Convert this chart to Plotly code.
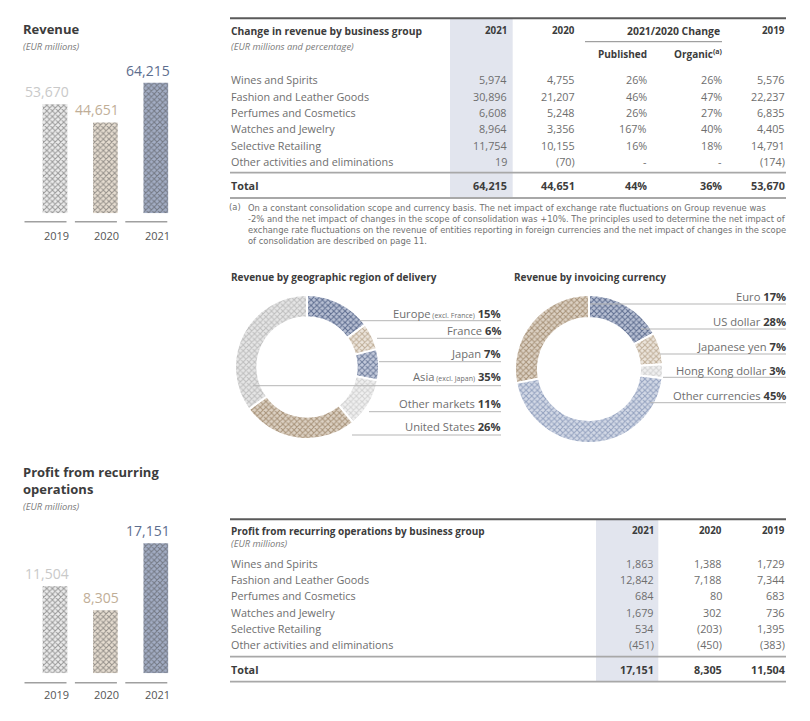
import plotly.graph_objects as go

W, H = 810, 721
FONT = "Open Sans"
FOOT_FONT = "DejaVu Sans"

# ---------------- data ----------------
years = ["2019", "2020", "2021"]
revenue_totals = [53670, 44651, 64215]
profit_totals = [11504, 8305, 17151]

business_groups = ["Wines and Spirits", "Fashion and Leather Goods", "Perfumes and Cosmetics",
                   "Watches and Jewelry", "Selective Retailing", "Other activities and eliminations"]
rev_2021 = [5974, 30896, 6608, 8964, 11754, 19]
rev_2020 = [4755, 21207, 5248, 3356, 10155, -70]
rev_published = [26, 46, 26, 167, 16, None]
rev_organic = [26, 47, 27, 40, 18, None]
rev_2019 = [5576, 22237, 6835, 4405, 14791, -174]
rev_total_published = 44
rev_total_organic = 36

profit_2021 = [1863, 12842, 684, 1679, 534, -451]
profit_2020 = [1388, 7188, 80, 302, -203, -450]
profit_2019 = [1729, 7344, 683, 736, 1395, -383]

geo_regions = ["Europe", "France", "Japan", "Asia", "Other markets", "United States"]
geo_notes = ["(excl. France)", "", "", "(excl. Japan)", "", ""]
geo_shares = [15, 6, 7, 35, 11, 26]
geo_pie_order = ["Europe", "France", "Japan", "Other markets", "United States", "Asia"]

currencies = ["Euro", "US dollar", "Japanese yen", "Hong Kong dollar", "Other currencies"]
currency_shares = [17, 28, 7, 3, 45]
currency_pie_order = ["Euro", "Japanese yen", "Hong Kong dollar", "Other currencies", "US dollar"]

footnote_lines = [
    "On a constant consolidation scope and currency basis. The net impact of exchange rate fluctuations on Group revenue was",
    "-2% and the net impact of changes in the scope of consolidation was +10%. The principles used to determine the net impact of",
    "exchange rate fluctuations on the revenue of entities reporting in foreign currencies and the net impact of changes in the scope",
    "of consolidation are described on page 11.",
]

# ---------------- styles ----------------
DARK = "#3c3c3c"
GREY = "#6e6e6e"
RULE_DARK = "#5a5a5a"
RULE = "#a8a8a8"
COLHL = "#e2e5ee"

year_fg = ["#bdbdbd", "#b09d86", "#4f5e80"]
year_bg = ["#ececec", "#e6ddd1", "#a3adc4"]
year_label = ["#c9c9c9", "#bfae97", "#5d6d8e"]

slice_style = {
    "Europe": ("#5f6e90", "#b9c1d4"),
    "France": ("#bfae98", "#ece5dc"),
    "Japan": ("#6f7d9c", "#c3cadb"),
    "Other markets": ("#d2d2d2", "#f0f0f0"),
    "United States": ("#a8937a", "#dcd1c3"),
    "Asia": ("#bebebe", "#e6e6e6"),
    "Euro": ("#5f6e90", "#b9c1d4"),
    "Japanese yen": ("#bfae98", "#ece5dc"),
    "Hong Kong dollar": ("#d2d2d2", "#f0f0f0"),
    "Other currencies": ("#94a2bf", "#d3d9e6"),
    "US dollar": ("#a8937a", "#dcd1c3"),
}

ROW_SIZE = 10.8
HEAD_SIZE = 9.8
SUB_SIZE = 9.3


def fx(x):
    return x / W


def fy(y):
    return 1 - y / H


def fmt(v):
    if v is None:
        return "-"
    return f"{v:,}" if v >= 0 else f"({-v:,})"


def pct(v):
    return "-" if v is None else f"{v}%"


ann = []
shapes = []


def text(x, y, s, size=10, color=GREY, anchor="left", bold=False, italic=False, family=FONT,
         yanchor="middle"):
    if bold:
        s = f"<b>{s}</b>"
    if italic:
        s = f"<i>{s}</i>"
    ann.append(dict(x=fx(x), y=fy(y), xref="paper", yref="paper", text=s, showarrow=False,
                    xanchor=anchor, yanchor=yanchor, borderpad=0, borderwidth=0, align="left",
                    font=dict(family=family, size=size, color=color)))


def hline(x0, x1, y, color=RULE, width=1.0):
    shapes.append(dict(type="line", xref="paper", yref="paper", x0=fx(x0), x1=fx(x1),
                       y0=fy(y), y1=fy(y), line=dict(color=color, width=width)))


def rect(x0, x1, y0, y1, color):
    shapes.append(dict(type="rect", xref="paper", yref="paper", x0=fx(x0), x1=fx(x1),
                       y0=fy(y1), y1=fy(y0), fillcolor=color, line=dict(width=0), layer="below"))


fig = go.Figure()

# ---------------- bar charts ----------------
BAR_W = 0.49
bar_x = list(range(len(years)))
x_dom = [fx(29.8), fx(181)]


def bar_block(values, xa, ya, base_px, top_px, full_px, line_y, year_y, title, title_top, sub_y):
    fig.add_trace(go.Bar(
        x=bar_x, y=values, width=BAR_W, xaxis=xa, yaxis=ya, showlegend=False,
        marker=dict(color=year_bg, line=dict(width=0),
                    pattern=dict(shape="x", fgcolor=year_fg, bgcolor=year_bg, size=4, solidity=0.45)),
        hoverinfo="x+y"))
    axis_id = xa.replace("x", "")
    fig.update_layout(**{
        f"xaxis{axis_id}": dict(domain=x_dom, range=[-0.5, 2.5], visible=False, fixedrange=True,
                                anchor=ya),
        f"yaxis{axis_id}": dict(domain=[fy(base_px), fy(top_px)],
                                range=[0, max(values) * (base_px - top_px) / full_px],
                                visible=False, fixedrange=True, anchor=xa),
    })
    xr = "x" + axis_id
    yr = "y" + axis_id
    for i, v in enumerate(values):
        ann.append(dict(x=i + BAR_W / 2 + 0.03, y=v, xref=xr, yref=yr, text=f"{v:,}", showarrow=False,
                        xanchor="right", yanchor="bottom", yshift=3, borderpad=0, borderwidth=0,
                        font=dict(family=FONT, size=14, color=year_label[i])))
        ann.append(dict(x=i + BAR_W / 2 + 0.03, y=fy(year_y), xref=xr, yref="paper", text=years[i],
                        showarrow=False, xanchor="right", yanchor="middle", borderpad=0, borderwidth=0,
                        font=dict(family=FONT, size=11, color="#555555")))
        px_c = 55 + 50.4 * i
        hline(px_c - 30.5, px_c + 11.5, line_y, color="#a0a0a0", width=1.6)
    text(23, title_top, title, size=13, color=DARK, bold=True, yanchor="top")
    text(23, sub_y, "(EUR millions)", size=SUB_SIZE, color="#7a7a7a", italic=True)


bar_block(revenue_totals, "x", "y", 213.3, 60, 130.6, 221.7, 235, "Revenue", 20.5, 46.5)
bar_block(profit_totals, "x2", "y2", 673.3, 515, 130.0, 682.7, 694.3,
          "Profit from recurring<br>operations", 462.5, 506.5)

# ---------------- revenue table ----------------
rev_cols_right = [507, 575, 647, 722, 785]
row_y0, row_dy = 80, 16.3
rect(450, 512.7, 18.3, 198, COLHL)
hline(230, 786, 18.3, RULE_DARK, 2)
hline(230, 786, 172.7, RULE, 1.8)
hline(230, 786, 198, RULE, 1.8)
hline(585, 722, 41.7, "#8a8a8a", 1)

text(231, 30.7, "Change in revenue by business group", size=10.3, color=DARK, bold=True)
text(231, 46.7, "(EUR millions and percentage)", size=SUB_SIZE, color="#7a7a7a", italic=True)
text(507, 30.7, "2021", size=HEAD_SIZE, color=DARK, anchor="right", bold=True)
text(575, 30.7, "2020", size=HEAD_SIZE, color=DARK, anchor="right", bold=True)
text(673, 30.7, "2021/2020 Change", size=10.4, color=DARK, anchor="center", bold=True)
text(785, 30.7, "2019", size=HEAD_SIZE, color=DARK, anchor="right", bold=True)
text(647, 54.3, "Published", size=10, color=DARK, anchor="right", bold=True)
text(723, 54.3, "Organic<sup>(a)</sup>", size=10, color=DARK, anchor="right", bold=True)

for r, name in enumerate(business_groups):
    y = row_y0 + row_dy * r
    text(231, y, name, size=ROW_SIZE, color=GREY)
    cells = [fmt(rev_2021[r]), fmt(rev_2020[r]), pct(rev_published[r]), pct(rev_organic[r]), fmt(rev_2019[r])]
    for c, s in enumerate(cells):
        text(rev_cols_right[c], y, s, size=ROW_SIZE, color=GREY, anchor="right")
text(231, 185, "Total", size=ROW_SIZE, color=DARK, bold=True)
tot = [fmt(revenue_totals[2]), fmt(revenue_totals[1]), pct(rev_total_published), pct(rev_total_organic),
       fmt(revenue_totals[0])]
for c, s in enumerate(tot):
    text(rev_cols_right[c], 185, s, size=ROW_SIZE, color=DARK, anchor="right", bold=True)

# footnote
FOOT_SIZE = 8.4
text(229, 206.5, "(a)", size=FOOT_SIZE, color="#707070", family=FOOT_FONT)
text(247.5, 202.5, "<br>".join(footnote_lines), size=FOOT_SIZE, color="#707070",
     family=FOOT_FONT, yanchor="top")

# ---------------- profit table ----------------
pr_cols_right = [654, 722, 785]
prow_y0, prow_dy = 563.3, 16.3
rect(596, 658.3, 519.3, 681.7, COLHL)
hline(230, 786, 519.3, RULE_DARK, 2)
hline(230, 786, 656.7, RULE, 1.8)
hline(230, 786, 681.7, RULE, 1.8)
text(231, 530.7, "Profit from recurring operations by business group", size=10, color=DARK, bold=True)
text(231, 543.5, "(EUR millions)", size=SUB_SIZE, color="#7a7a7a", italic=True)
for c, yv in enumerate(["2021", "2020", "2019"]):
    text(pr_cols_right[c], 530.7, yv, size=HEAD_SIZE, color=DARK, anchor="right", bold=True)
for r, name in enumerate(business_groups):
    y = prow_y0 + prow_dy * r
    text(231, y, name, size=ROW_SIZE, color=GREY)
    for c, s in enumerate([fmt(profit_2021[r]), fmt(profit_2020[r]), fmt(profit_2019[r])]):
        text(pr_cols_right[c], y, s, size=ROW_SIZE, color=GREY, anchor="right")
text(231, 669.3, "Total", size=ROW_SIZE, color=DARK, bold=True)
for c, v in enumerate([profit_totals[2], profit_totals[1], profit_totals[0]]):
    text(pr_cols_right[c], 669.3, fmt(v), size=ROW_SIZE, color=DARK, anchor="right", bold=True)

# ---------------- donuts ----------------


def donut(order, names, shares, x0, x1, y0, y1):
    vals = [shares[names.index(n)] for n in order]
    fig.add_trace(go.Pie(
        labels=order, values=vals, sort=False, direction="clockwise", rotation=0, hole=0.69,
        textinfo="none", showlegend=False,
        marker=dict(colors=[slice_style[n][1] for n in order], line=dict(color="white", width=2),
                    pattern=dict(shape="x", fgcolor=[slice_style[n][0] for n in order],
                                 bgcolor=[slice_style[n][1] for n in order], size=4, solidity=0.45)),
        domain=dict(x=[fx(x0), fx(x1)], y=[fy(y1), fy(y0)])))


donut(geo_pie_order, geo_regions, geo_shares, 235, 379, 295, 439)
donut(currency_pie_order, currencies, currency_shares, 515, 663, 295, 443)

text(231, 276.7, "Revenue by geographic region of delivery", size=10, color=DARK, bold=True)
text(514, 276.7, "Revenue by invoicing currency", size=10, color=DARK, bold=True)

LBL_SIZE = 11.2
geo_label_y = [313.3, 330, 353.3, 376.7, 403.3, 426.7]
geo_line_y = [320.7, 338.3, 361.7, 385.7, 411.7, 435]
geo_line_x0 = [360, 377, 379, 253, 369, 352]
for i, name in enumerate(geo_regions):
    note = f"<span style='font-size:7px'> {geo_notes[i]}</span>" if geo_notes[i] else ""
    text(501, geo_label_y[i], f"{name}{note} <b><span style='color:{DARK}'>{geo_shares[i]}%</span></b>",
         size=LBL_SIZE, color=GREY, anchor="right")
    hline(geo_line_x0[i], 501, geo_line_y[i], "#b5b5b5", 1)

cur_label_y = [296.7, 321.7, 346, 370, 395]
cur_line_y = [304, 329, 354, 377.3, 402.7]
cur_line_x0 = [590, 641, 660, 663, 650]
for i, name in enumerate(currencies):
    text(786, cur_label_y[i], f"{name} <b><span style='color:{DARK}'>{currency_shares[i]}%</span></b>",
         size=LBL_SIZE, color=GREY, anchor="right")
    hline(cur_line_x0[i], 786, cur_line_y[i], "#b5b5b5", 1)

fig.update_layout(
    width=W, height=H, margin=dict(l=0, r=0, t=0, b=0),
    paper_bgcolor="white", plot_bgcolor="rgba(0,0,0,0)",
    showlegend=False, bargap=0.51,
    annotations=ann, shapes=shapes,
    font=dict(family=FONT),
)

fig.write_html("out.html", config={"displayModeBar": False},
               post_script="document.body.style.margin='0';")
